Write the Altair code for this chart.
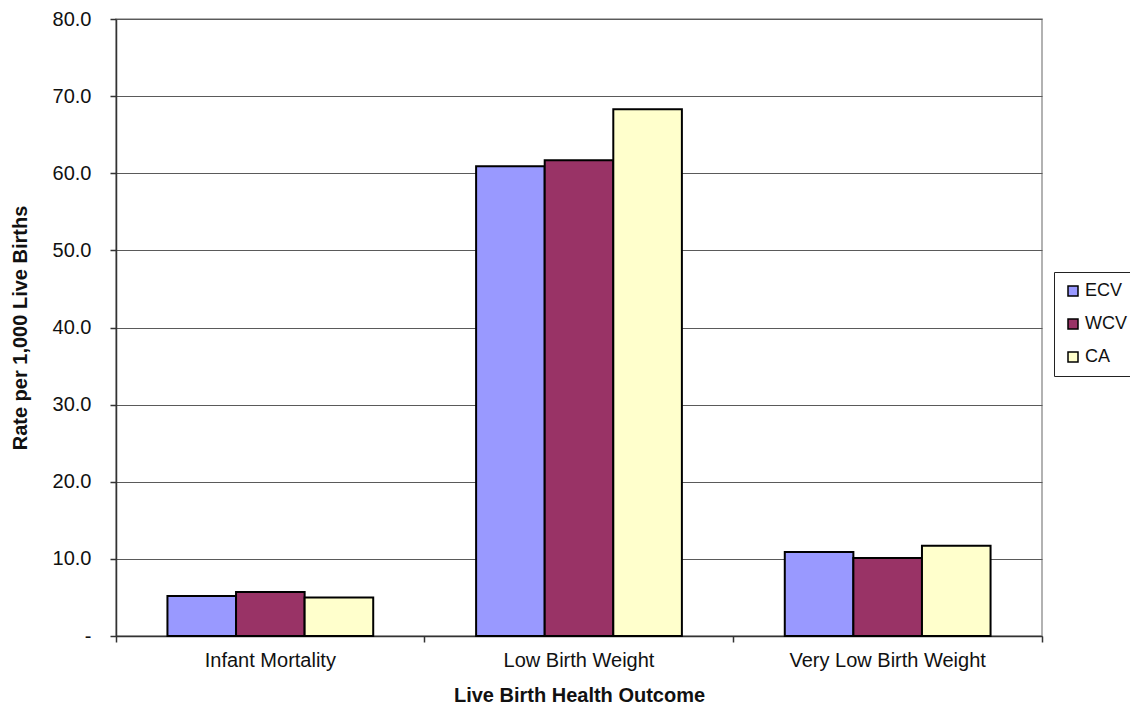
import altair as alt
import pandas as pd

categories = ["Infant Mortality", "Low Birth Weight", "Very Low Birth Weight"]
series = ["ECV", "WCV", "CA"]
ecv = [5.2, 60.9, 10.9]
wcv = [5.7, 61.7, 10.1]
ca = [5.0, 68.3, 11.7]
colors = ["#9999FF", "#993366", "#FFFFCC"]

rows = []
for s, vals in zip(series, [ecv, wcv, ca]):
    for c, v in zip(categories, vals):
        rows.append({"cat": c, "series": s, "value": v})
df = pd.DataFrame(rows)

FONT = "Liberation Sans"
W, H = 926, 617

x_main = alt.X(
    "cat:N", sort=categories,
    scale=alt.Scale(paddingInner=0, paddingOuter=0),
    axis=alt.Axis(
        orient="bottom", bandPosition=0, labelAngle=0, labelLimit=0,
        tickSize=6, tickColor="#333333", tickWidth=1.5,
        domainColor="#333333", domainWidth=1.5,
        labelPadding=8, labelFontSize=20, labelFont=FONT, labelColor="#111111",
        title="Live Birth Health Outcome", titleFont=FONT, titleFontSize=20,
        titleFontWeight="bold", titleColor="#111111",
        titleY=59, titleBaseline="middle",
    ),
)

bars = alt.Chart(df).mark_bar(stroke="black", strokeWidth=2).encode(
    x=x_main,
    xOffset=alt.XOffset("series:N", sort=series,
                        scale=alt.Scale(paddingInner=0, paddingOuter=0.75)),
    y=alt.Y(
        "value:Q", scale=alt.Scale(domain=[0, 80], nice=False),
        axis=alt.Axis(
            values=[0, 10, 20, 30, 40, 50, 60, 70, 80],
            labelExpr="datum.value == 0 ? '-\u00a0\u00a0\u00a0' : format(datum.value, '.1f')",
            tickSize=6, tickColor="#333333", tickWidth=1.5,
            domainColor="#333333", domainWidth=1.5,
            grid=True, gridColor="#5a5a5a", gridWidth=1,
            labelPadding=19, labelFontSize=20, labelFont=FONT, labelColor="#111111",
            title="Rate per 1,000 Live Births", titleFont=FONT, titleFontSize=20,
            titleFontWeight="bold", titleColor="#111111",
            titleX=-96, titleY=H / 2, titleBaseline="middle", titleAngle=-90,
        ),
    ),
    color=alt.Color(
        "series:N", sort=series,
        scale=alt.Scale(domain=series, range=colors),
        legend=alt.Legend(
            orient="none", legendX=938, legendY=253, title=None,
            symbolType="square", symbolSize=100, symbolStrokeColor="black",
            symbolStrokeWidth=1.5, symbolOpacity=1,
            labelFont=FONT, labelFontSize=18, labelColor="#111111",
            rowPadding=15, padding=10, strokeColor="#222222", fillColor="white",
            labelOffset=3,
        ),
    ),
)

end_tick = alt.Chart(df).mark_rule(opacity=0).encode(
    x=alt.X(
        "cat:N", sort=categories,
        axis=alt.Axis(
            orient="bottom", bandPosition=1, values=[categories[-1]],
            labels=False, domain=False, title=None,
            tickSize=6, tickColor="#333333", tickWidth=1.5,
        ),
    ),
)

chart = alt.layer(bars, end_tick).resolve_axis(x="independent").properties(
    width=W, height=H,
    autosize=alt.AutoSizeParams(type="none"),
    padding={"left": 108, "top": 11, "right": 88, "bottom": 70},
).configure_view(stroke="#999999", strokeWidth=1.5)

chart.save("out.html", embed_options={"renderer": "svg", "actions": False})
